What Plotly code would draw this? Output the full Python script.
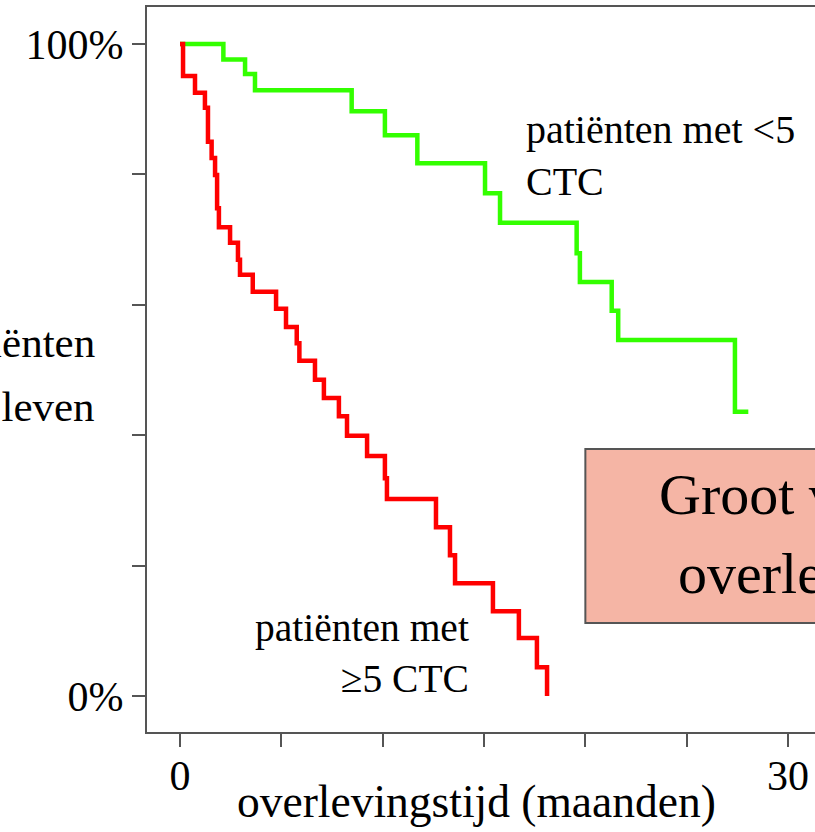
import plotly.graph_objects as go

# ---- data ----
green_t = [0, 2.14, 3.21, 3.70, 8.47, 10.11, 11.71, 15.05, 15.79, 19.57, 19.73,
           21.30, 21.62, 27.38, 28.04]
green_s = [100, 97.6, 95.4, 92.9, 89.7, 86.0, 81.7, 77.1, 72.6, 67.9, 63.5,
           59.1, 54.6, 43.6, 43.6]

red_t = [0, 0.15, 0.74, 1.23, 1.38, 1.56, 1.73, 1.83, 1.92, 2.47, 2.86, 2.96,
         3.59, 4.74, 5.23, 5.76, 5.89, 6.66, 7.10, 7.84, 8.24, 9.23, 10.11,
         10.21, 12.63, 13.32, 13.57, 15.44, 16.72, 17.61, 18.11]
red_s = [100, 95.1, 92.5, 90.2, 85.0, 82.5, 79.9, 74.8, 71.9, 69.5, 66.9, 64.6,
         62.0, 59.4, 56.6, 54.1, 51.4, 48.5, 45.7, 42.9, 39.9, 36.8, 33.4,
         30.2, 25.9, 21.6, 17.3, 13.0, 8.9, 4.4, 0]

x_tickvals = [0, 5, 10, 15, 20, 25, 30]
x_ticktext = ["0", "", "", "", "", "", "30"]
y_tickvals = [0, 20, 40, 60, 80, 100]
y_ticktext = ["0%", "", "", "", "", "100%"]

label_low = "patiënten met <5<br>CTC"
label_high = "patiënten met<br>≥5 CTC"
box_line1 = "Groot verschil in"
box_line2 = "overlevingstijd"
y_title_1 = "% patiënten"
y_title_2 = "nog in leven"
x_title = "overlevingstijd (maanden)"

FONT = "Liberation Serif"

fig = go.Figure()
fig.add_trace(go.Scatter(x=green_t, y=green_s, mode="lines",
                         line=dict(color="#33FF00", width=4.5, shape="hv"),
                         showlegend=False, hoverinfo="skip"))
fig.add_trace(go.Scatter(x=red_t, y=red_s, mode="lines",
                         line=dict(color="#FF0000", width=4.5, shape="hv"),
                         showlegend=False, hoverinfo="skip"))

# salmon box
fig.add_shape(type="rect", xref="x", yref="y", x0=20, x1=45, y0=11.2, y1=37.9,
              fillcolor="#F5B5A5", line=dict(color="#555555", width=2), layer="above")

fig.add_annotation(x=16.95, y=90.7, xref="x", yref="y", text=label_low,
                   xanchor="left", yanchor="top", align="left", showarrow=False,
                   font=dict(family=FONT, size=40, color="black"))
fig.add_annotation(x=14.35, y=14.1, xref="x", yref="y", text=label_high,
                   xanchor="right", yanchor="top", align="right", showarrow=False,
                   font=dict(family=FONT, size=39.5, color="black"))
fig.add_annotation(x=23.55, y=30.9, xref="x", yref="y", text=box_line1,
                   xanchor="left", yanchor="middle", align="left", showarrow=False,
                   font=dict(family=FONT, size=58, color="black"))
fig.add_annotation(x=24.45, y=18.8, xref="x", yref="y", text=box_line2,
                   xanchor="left", yanchor="middle", align="left", showarrow=False,
                   font=dict(family=FONT, size=58, color="black"))
fig.add_annotation(x=-0.0749, y=0.5366, xref="paper", yref="paper", text=y_title_1,
                   xanchor="right", yanchor="middle", align="right", showarrow=False,
                   font=dict(family=FONT, size=43, color="black"))
fig.add_annotation(x=-0.0749, y=0.4483, xref="paper", yref="paper", text=y_title_2,
                   xanchor="right", yanchor="middle", align="right", showarrow=False,
                   font=dict(family=FONT, size=43, color="black"))
fig.add_annotation(x=0.494, y=-0.096, xref="paper", yref="paper", text=x_title,
                   xanchor="center", yanchor="middle", showarrow=False,
                   font=dict(family=FONT, size=45.5, color="black"))

fig.update_layout(
    width=815, height=832,
    margin=dict(l=147, r=0, t=7, b=100),
    paper_bgcolor="white", plot_bgcolor="white",
    showlegend=False,
    xaxis=dict(range=[-1.628, 31.33], tickvals=x_tickvals, ticktext=x_ticktext,
               ticks="outside", ticklen=13, tickwidth=2, tickcolor="#555555",
               showline=True, linecolor="#555555", linewidth=2, mirror=True,
               showgrid=False, zeroline=False, ticklabelstandoff=-7,
               tickfont=dict(family=FONT, size=42, color="black")),
    yaxis=dict(range=[-5.52, 105.67], tickvals=y_tickvals, ticktext=y_ticktext,
               ticks="outside", ticklen=13, tickwidth=2, tickcolor="#555555",
               showline=True, linecolor="#555555", linewidth=2,
               showgrid=False, zeroline=False,
               tickfont=dict(family=FONT, size=42, color="black")),
)

fig.write_html(
    "out.html",
    config={"displayModeBar": False},
    post_script=(
        "document.body.style.margin='0';"
        "document.body.style.overflow='hidden';"
        "document.documentElement.style.overflow='hidden';"
    ),
)
